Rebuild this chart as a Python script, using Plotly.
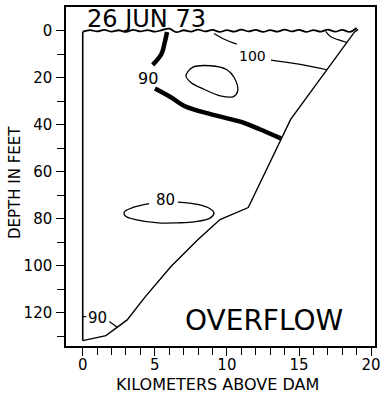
import plotly.graph_objects as go

# reservoir outline (km above dam, depth in feet)
bottom_km = [0, 1.61, 3.08, 4.33, 6.12, 7.96, 9.52, 11.48, 14.42, 18.84, 19.1]
bottom_ft = [131.8, 129.7, 123.0, 113.2, 100.3, 89.0, 80.3, 75.2, 37.7, 0.6, -0.6]

dam_km = [0, 0]
dam_ft = [0.4, 131.8]

# wavy water surface
surface_km = [0, 0.5, 1, 1.5, 2, 2.5, 3, 3.5, 4, 4.5, 5, 5.5, 6, 6.5, 7, 7.5, 8, 8.5,
              9, 9.5, 10, 10.5, 11, 11.5, 12, 12.5, 13, 13.5, 14, 14.5, 15, 15.5,
              16, 16.5, 17, 17.5, 18, 18.5, 19]
surface_ft = [0.4, -0.3, 0.3, -0.4, 0.4, -0.2, 0.5, -0.4, 0.3, -0.3, 0.4, -0.3, -0.9,
              0.6, -0.2, 0.4, -0.5, 0.3, -0.4, 0.5, -0.3, 0.4, -0.5, 0.3, -0.4, 0.5,
              -0.3, 0.4, -0.5, 0.3, -0.4, 0.5, -0.3, 0.4, -0.5, 0.4, -0.4, 0.5, -1.2]

# 90 deg isotherms (heavy)
iso90a_km = [5.85, 5.69, 5.46, 4.85]
iso90a_ft = [0.5, 4.9, 9.9, 14.5]
iso90b_km = [5.01, 6.14, 7.05, 8.87, 11.14, 12.27, 13.74]
iso90b_ft = [24.6, 28.4, 32.0, 35.5, 39.1, 41.9, 45.8]

# closed warm core
core_km = [7.16, 7.62, 8.86, 10.0, 10.5, 10.75, 10.46, 9.54, 8.41, 7.5, 7.16]
core_ft = [19.2, 15.6, 14.9, 16.6, 19.9, 25.6, 28.0, 27.7, 24.9, 22.0, 19.2]

# 100 deg isotherm
iso100_km = [9.1, 9.78, 10.68, None, 13.06, 14.99, 16.93]
iso100_ft = [1.2, 3.5, 5.7, None, 12.5, 14.2, 16.6]
iso100b_km = [16.85, 17.2, 17.71, 18.33]
iso100b_ft = [0.3, 2.6, 3.8, 5.0]

# 80 deg isotherm
iso80_km = [4.6, 4.33, 3.42, 2.97, 2.86, 3.0, 3.65, 5.24, 6.6, 7.73, 8.86, 9.1, 8.86, 7.96, 6.6]
iso80_ft = [73.5, 73.9, 75.3, 76.6, 77.6, 79.0, 80.3, 81.7, 81.7, 81.3, 79.6, 77.4, 75.8, 73.9, 72.9]

# 90 near the dam bottom
iso90c_km = [0, 0.25, None, 1.84, 2.4]
iso90c_ft = [121.6, 121.6, None, 123.7, 126.1]

labels = [("90", 4.56, 20.2, 16), ("100", 11.8, 10.8, 14), ("80", 5.75, 71.8, 15),
          ("90", 1.02, 122.4, 15)]

fig = go.Figure()


def add_line(x, y, width, smooth=True):
    fig.add_trace(go.Scatter(x=x, y=y, mode="lines", showlegend=False, hoverinfo="skip",
                             line=dict(color="black", width=width,
                                       shape="spline" if smooth else "linear")))


add_line(dam_km, dam_ft, 1.6, smooth=False)
add_line(bottom_km, bottom_ft, 1.4, smooth=False)
add_line(surface_km, surface_ft, 1.8)
add_line(iso90a_km, iso90a_ft, 4.5)
add_line(iso90b_km, iso90b_ft, 4.5)
add_line(core_km, core_ft, 1.3)
add_line(iso100_km, iso100_ft, 1.2)
add_line(iso100b_km, iso100b_ft, 1.2)
add_line(iso80_km, iso80_ft, 1.3)
add_line(iso90c_km, iso90c_ft, 1.2, smooth=False)

for txt, x, y, size in labels:
    fig.add_annotation(x=x, y=y, text=txt, showarrow=False,
                       font=dict(size=size, color="black", family="DejaVu Sans"))

fig.add_annotation(x=4.39, y=-5.0, text="26 JUN 73", showarrow=False,
                   font=dict(size=24, color="black", family="DejaVu Sans"))
fig.add_annotation(x=12.55, y=123.4, text="OVERFLOW", showarrow=False,
                   font=dict(size=28, color="black", family="DejaVu Sans"))

# axis titles
fig.add_annotation(xref="paper", yref="paper", x=0.489, y=-0.115, text="KILOMETERS ABOVE DAM",
                   xanchor="center", yanchor="middle", showarrow=False,
                   font=dict(size=16, color="black", family="DejaVu Sans"))
fig.add_annotation(xref="paper", yref="paper", x=-0.165, y=0.481, text="DEPTH IN FEET",
                   xanchor="center", yanchor="middle", textangle=-90, showarrow=False,
                   font=dict(size=15, color="black", family="DejaVu Sans"))

fig.update_xaxes(range=[-1.16, 20.27], showgrid=False, zeroline=False,
                 showline=True, linecolor="black", linewidth=1.5, mirror=True,
                 tickvals=[0, 5, 10, 15, 20], ticks="outside", ticklen=8, tickwidth=1.4,
                 tickcolor="black", ticklabelstandoff=-4, ticklabeloverflow="allow",
                 minor=dict(tickvals=[1, 2, 3, 4, 6, 7, 8, 9, 11, 12, 13, 14, 16, 17, 18, 19],
                            ticks="outside", ticklen=7, tickwidth=1.3, tickcolor="black"),
                 tickfont=dict(size=15, color="black", family="DejaVu Sans"))
fig.update_yaxes(range=[134.1, -10.1], showgrid=False, zeroline=False,
                 showline=True, linecolor="black", linewidth=1.5, mirror=True,
                 tickvals=[0, 20, 40, 60, 80, 100, 120], ticks="outside", ticklen=8,
                 tickwidth=1.4, tickcolor="black", ticklabelstandoff=1,
                 minor=dict(tickvals=[10, 30, 50, 70, 90, 110, 130],
                            ticks="outside", ticklen=7, tickwidth=1.3, tickcolor="black"),
                 tickfont=dict(size=15, color="black", family="DejaVu Sans"))

fig.update_layout(width=384, height=396, margin=dict(l=66, r=3, t=7, b=50),
                  plot_bgcolor="white", paper_bgcolor="white")

# drop the default page margin so the figure fills the window
fig.write_html("out.html", config={"displayModeBar": False},
               post_script="document.body.style.margin='0';document.body.style.overflow='hidden';")
